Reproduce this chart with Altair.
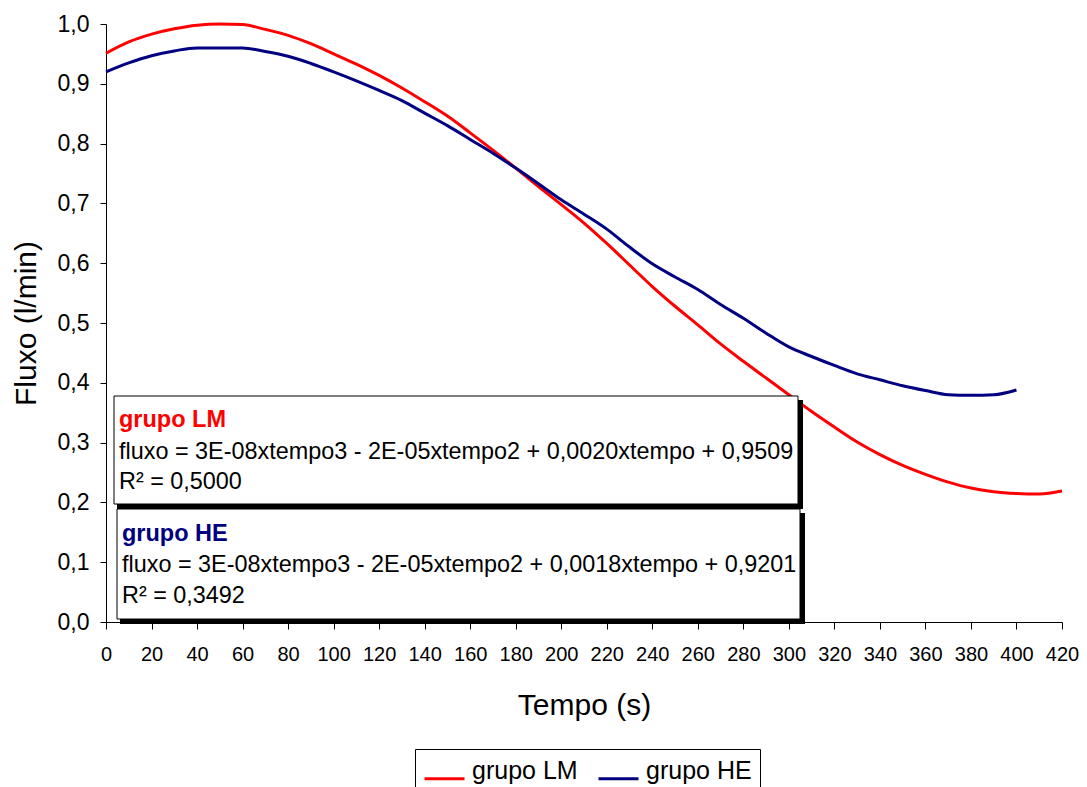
import altair as alt
import pandas as pd

# ---- data ----
lm_t = list(range(0, 421, 10))
lm_v = [0.951, 0.970, 0.983, 0.992, 0.998, 1.000, 0.999, 0.991, 0.981, 0.967,
        0.950, 0.933, 0.914, 0.893, 0.870, 0.846, 0.818, 0.789, 0.759, 0.728,
        0.698, 0.667, 0.633, 0.597, 0.561, 0.528, 0.497, 0.465, 0.436, 0.408,
        0.380, 0.352, 0.326, 0.301, 0.280, 0.262, 0.247, 0.234, 0.224, 0.218,
        0.215, 0.214, 0.219]
he_t = list(range(0, 401, 10))
he_v = [0.920, 0.935, 0.947, 0.955, 0.960, 0.960, 0.960, 0.954, 0.946, 0.934,
        0.920, 0.905, 0.889, 0.872, 0.851, 0.830, 0.807, 0.784, 0.759, 0.733,
        0.706, 0.682, 0.657, 0.627, 0.599, 0.577, 0.556, 0.531, 0.508, 0.483,
        0.460, 0.444, 0.429, 0.415, 0.405, 0.395, 0.387, 0.380, 0.379, 0.380,
        0.388]
series_names = ["grupo LM", "grupo HE"]
series_colors = ["#FF0000", "#000080"]
x_ticks = list(range(0, 421, 20))
y_ticks = [i / 10 for i in range(0, 11)]

lm_lines = ["grupo LM",
            "fluxo = 3E-08xtempo3 - 2E-05xtempo2 + 0,0020xtempo + 0,9509",
            "R\u00b2 = 0,5000"]
he_lines = ["grupo HE",
            "fluxo = 3E-08xtempo3 - 2E-05xtempo2 + 0,0018xtempo + 0,9201",
            "R\u00b2 = 0,3492"]

df = pd.concat([
    pd.DataFrame({"t": lm_t, "v": lm_v, "s": series_names[0]}),
    pd.DataFrame({"t": he_t, "v": he_v, "s": series_names[1]}),
])

FONT = "Liberation Sans"

lines = alt.Chart(df).mark_line(strokeWidth=3, interpolate="monotone").encode(
    x=alt.X("t:Q", scale=alt.Scale(domain=[0, 420], nice=False, zero=False),
            axis=alt.Axis(values=x_ticks, title="Tempo (s)", grid=False,
                          labelFontSize=20, labelFont=FONT, labelColor="black",
                          labelOverlap=False, labelFlush=False, labelPadding=15,
                          tickSize=7, tickColor="black", domainColor="black",
                          titleFont=FONT, titleFontSize=30, titleFontWeight="normal",
                          titleColor="black", titleBaseline="alphabetic", titleY=92)),
    y=alt.Y("v:Q", scale=alt.Scale(domain=[0, 1], nice=False),
            axis=alt.Axis(values=y_ticks, title="Fluxo (l/min)", grid=False,
                          labelExpr="replace(format(datum.value, '.1f'), '.', ',')",
                          labelFontSize=23, labelFont=FONT, labelColor="black",
                          labelFlush=False, labelPadding=11, tickSize=6,
                          tickColor="black", domainColor="black", titleFont=FONT,
                          titleFontSize=30, titleFontWeight="normal", titleColor="black",
                          titleBaseline="alphabetic", titleX=-71)),
    color=alt.Color("s:N", scale=alt.Scale(domain=series_names, range=series_colors),
                    legend=alt.Legend(title=None, orient="none", legendX=309, legendY=725,
                                      direction="horizontal", symbolType="stroke",
                                      symbolSize=1600, symbolStrokeWidth=3,
                                      labelFontSize=25, labelFont=FONT, labelColor="black",
                                      labelBaseline="alphabetic",
                                      labelOffset=6, columnPadding=14, padding=8,
                                      strokeColor="black", fillColor="white")),
)

one = pd.DataFrame({"k": [0]})


def box(x1, y1, x2, y2):
    shadow = alt.Chart(one).mark_rect(color="black").encode(
        x=alt.value(x1 + 3), x2=alt.value(x2 + 5),
        y=alt.value(y1 + 4), y2=alt.value(y2 + 5))
    face = alt.Chart(one).mark_rect(fill="white", stroke="black", strokeWidth=1).encode(
        x=alt.value(x1), x2=alt.value(x2), y=alt.value(y1), y2=alt.value(y2))
    return [shadow, face]


def label(txt, x, y, color="black", bold=False, size=23.4):
    return alt.Chart(one).mark_text(
        text=txt, align="left", baseline="alphabetic", font=FONT, fontSize=size,
        fontWeight="bold" if bold else "normal", color=color
    ).encode(x=alt.value(x), y=alt.value(y))


layers = [lines]
layers += box(8, 372, 692, 480)
layers += [label(lm_lines[0], 13, 403, series_colors[0], True, 23.5),
           label(lm_lines[1], 13, 435),
           label(lm_lines[2], 13, 465)]
layers += box(11, 485, 694, 595)
layers += [label(he_lines[0], 16, 517, series_colors[1], True, 23.5),
           label(he_lines[1], 16, 548),
           label(he_lines[2], 16, 579)]

chart = alt.layer(*layers).properties(
    width=956, height=598,
    padding={"left": 98, "top": 16, "right": 17, "bottom": 165},
    autosize=alt.AutoSizeParams(type="none"),
    background="white",
).configure_view(stroke=None)

chart.save("out.html", embed_options={"renderer": "svg", "actions": False})
